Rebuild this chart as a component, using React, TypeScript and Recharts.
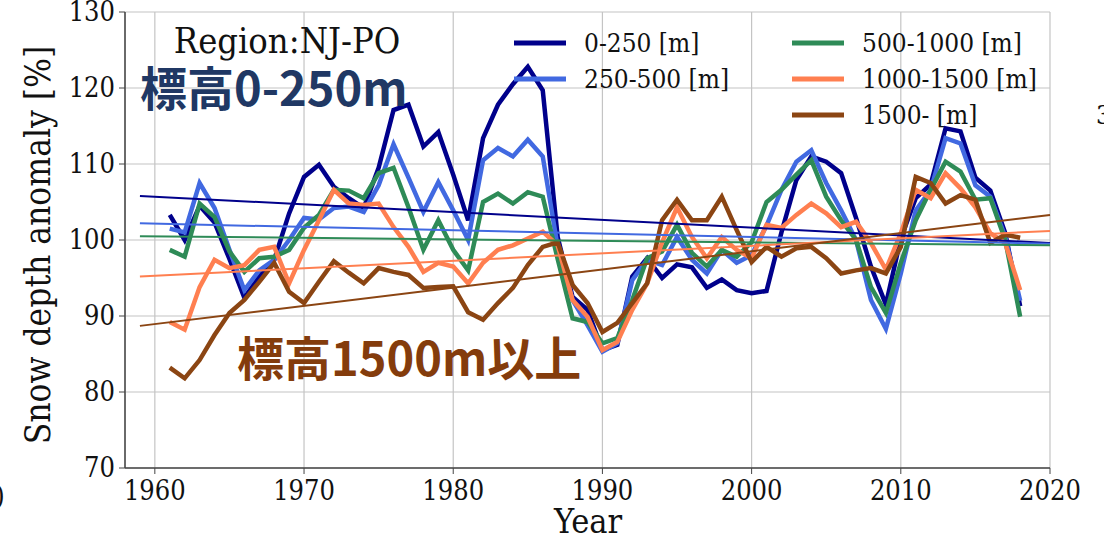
import React from 'react';
import { LineChart, Line, XAxis, YAxis, CartesianGrid } from 'recharts';

// years of the yearly series
const years = [
    1961, 1962, 1963, 1964, 1965, 1966, 1967, 1968, 1969, 1970,
    1971, 1972, 1973, 1974, 1975, 1976, 1977, 1978, 1979, 1980,
    1981, 1982, 1983, 1984, 1985, 1986, 1987, 1988, 1989, 1990,
    1991, 1992, 1993, 1994, 1995, 1996, 1997, 1998, 1999, 2000,
    2001, 2002, 2003, 2004, 2005, 2006, 2007, 2008, 2009, 2010,
    2011, 2012, 2013, 2014, 2015, 2016, 2017, 2018,
];

const elev0_250 = [
    103.3, 100, 104.5, 102.3, 97.5, 92.4, 95.2, 97.4, 103.5, 108.3,
    109.9, 107, 105.5, 104.2, 109.5, 117.1, 117.8, 112.3, 114.2, 108.6,
    102.6, 113.4, 117.8, 120.5, 122.8, 119.7, 100.4, 92.5, 90.8, 85.5,
    86.2, 95.2, 97.6, 95, 96.8, 96.4, 93.7, 94.8, 93.4, 93,
    93.3, 101, 107.9, 111, 110.3, 108.8, 102.9, 96.5, 91.5, 100.2,
    105.5, 107.3, 114.7, 114.3, 108.2, 106.5, 100.9, 91.3,
];
const elev250_500 = [
    101.5, 101, 107.5, 104.2, 98.7, 93.4, 96, 97.4, 100, 102.9,
    102.7, 104.2, 104.4, 103.7, 107.2, 112.6, 108.2, 103.7, 107.6, 103.9,
    100, 110.5, 112.1, 111, 113.2, 111, 99.1, 92.1, 88.8, 85.3,
    86.4, 94.7, 97.4, 96.7, 100.4, 97.4, 95.6, 98.7, 97, 98,
    101.9, 106.6, 110.3, 111.8, 107.5, 103.9, 100, 92.1, 88.3, 95.6,
    103.9, 106.6, 113.4, 112.7, 107.2, 105.7, 100.4, 92,
];
const elev500_1000 = [
    98.7, 97.8, 104.8, 103, 98.5, 95.8, 97.6, 97.8, 98.7, 101.6,
    103.3, 106.6, 106.5, 105.5, 108.8, 109.5, 104.3, 98.7, 102.6, 98.7,
    96, 105, 106.1, 104.8, 106.3, 105.7, 97.5, 89.7, 89.2, 86.4,
    87.1, 92.1, 97.6, 98.5, 102, 98.3, 96.5, 98.7, 97.8, 99.7,
    105, 106.6, 108.6, 110.5, 105.7, 102.6, 100, 93.8, 90.4, 97,
    102.6, 106.6, 110.3, 109, 105.3, 105.5, 100, 89.9,
];
const elev1000_1500 = [
    89.2, 88.2, 93.8, 97.4, 96.3, 96.7, 98.7, 99.1, 94.3, 98.7,
    102.6, 106.6, 104.8, 104.6, 104.8, 101.7, 99.1, 95.8, 97, 96.5,
    94.3, 97, 98.7, 99.3, 100.2, 101.1, 99.3, 92.1, 89.9, 85.5,
    86.6, 90.8, 94.3, 99.7, 104.3, 100.4, 97.6, 100.4, 98.7, 97.6,
    102, 101.6, 103.3, 104.8, 103.5, 101.7, 102.4, 99.6, 96.1, 100.9,
    106.6, 105.5, 108.8, 106.8, 104.3, 100.9, 99.6, 93.4,
];
const elev1500 = [
    83.2, 81.8, 84.2, 87.5, 90.4, 92.1, 94.5, 97, 93.2, 91.7,
    94.5, 97.2, 95.7, 94.3, 96.3, 95.8, 95.4, 93.7, 93.8, 93.9,
    90.5, 89.5, 91.7, 93.7, 96.7, 99.1, 99.7, 94.1, 91.7, 87.9,
    89.1, 91.7, 94.3, 102.6, 105.3, 102.6, 102.6, 105.7, 101.3, 97.1,
    99.1, 97.8, 98.9, 99.1, 97.6, 95.6, 96, 96.3, 95.6, 99.1,
    108.3, 107.5, 104.8, 105.9, 105.3, 99.6, 100.7, 100.3,
];

// linear trend end points (1959 and 2020)
const trendYears = [1959, 2020];
const trend0_250 = [105.8, 99.6];
const trend250_500 = [102.2, 99.5];
const trend500_1000 = [100.5, 99.3];
const trend1000_1500 = [95.2, 101.2];
const trend1500 = [88.7, 103.3];

const xTicks = [1960, 1970, 1980, 1990, 2000, 2010, 2020];
const yTicks = [70, 80, 90, 100, 110, 120, 130];

const SERIES = [
    { name: '0-250 [m]', color: '#00008b', values: elev0_250, trend: trend0_250 },
    { name: '250-500 [m]', color: '#4169e1', values: elev250_500, trend: trend250_500 },
    { name: '500-1000 [m]', color: '#2e8b57', values: elev500_1000, trend: trend500_1000 },
    { name: '1000-1500 [m]', color: '#ff7f50', values: elev1000_1500, trend: trend1000_1500 },
    { name: '1500- [m]', color: '#8b4513', values: elev1500, trend: trend1500 },
];

const SERIF = "'DejaVu Serif Condensed', 'DejaVu Serif', serif";
const JP = "'Noto Sans CJK JP', 'Noto Sans', sans-serif";

const XTick = ({ x, y, payload }: any) => (
    <text x={x} y={y + 24} textAnchor="middle" fontFamily={SERIF} fontSize={27} fill="#111">
        {payload.value}
    </text>
);

const YTick = ({ x, y, payload }: any) => (
    <text x={x - 2} y={y + 9} textAnchor="end" fontFamily={SERIF} fontSize={27} fill="#111">
        {payload.value}
    </text>
);

export default function App() {
    return (
        <div style={{ position: 'relative', width: 1104, height: 541, background: '#fff' }}>
            <style>{'body{margin:0}'}</style>
            <LineChart width={1104} height={541} margin={{ top: 12, right: 54, bottom: 0, left: 0 }}>
                <CartesianGrid stroke="#c4c4c4" strokeWidth={1.2} />
                <XAxis
                    dataKey="year" type="number" domain={[1958, 2020]} ticks={xTicks}
                    allowDuplicatedCategory={false} height={73} tick={<XTick />} tickSize={6}
                    axisLine={{ stroke: '#444', strokeWidth: 1.5 }} tickLine={{ stroke: '#444' }}
                />
                <XAxis xAxisId="top" orientation="top" type="number" domain={[1958, 2020]} height={0}
                    tick={false} tickLine={false} axisLine={{ stroke: '#444', strokeWidth: 1.5 }} />
                <YAxis
                    type="number" domain={[70, 130]} ticks={yTicks} width={125} tick={<YTick />} tickSize={6}
                    axisLine={{ stroke: '#444', strokeWidth: 1.5 }} tickLine={{ stroke: '#444' }}
                />
                <YAxis yAxisId="right" orientation="right" type="number" domain={[70, 130]} width={0}
                    tick={false} tickLine={false} axisLine={{ stroke: '#444', strokeWidth: 1.5 }} />
                {SERIES.map((s) => (
                    <Line
                        key={s.name}
                        data={years.map((year, i) => ({ year, v: s.values[i] }))}
                        dataKey="v" stroke={s.color} strokeWidth={4.5} dot={false}
                        strokeLinejoin="miter" isAnimationActive={false}
                    />
                ))}
                {SERIES.map((s) => (
                    <Line
                        key={s.name + '-trend'}
                        data={trendYears.map((year, i) => ({ year, v: s.trend[i] }))}
                        dataKey="v" stroke={s.color} strokeWidth={2} dot={false} isAnimationActive={false}
                    />
                ))}
            </LineChart>
            <svg width={1104} height={541} style={{ position: 'absolute', left: 0, top: 0, pointerEvents: 'none' }}>
                <text x={287} y={53} textAnchor="middle" fontFamily={SERIF} fontSize={36} fill="#111">Region:NJ-PO</text>
                <text x={140} y={106} fontFamily={JP} fontWeight={700} fontSize={47} fill="#203864">標高0-250m</text>
                <text x={237} y={376} fontFamily={JP} fontWeight={700} fontSize={47} fill="#843c0c">標高1500m以上</text>
                <text transform="translate(50,245) rotate(-90)" textAnchor="middle" fontFamily={SERIF} fontSize={35} fill="#111">
                    Snow depth anomaly [%]
                </text>
                <text x={588} y={533} textAnchor="middle" fontFamily={SERIF} fontSize={34} fill="#111">Year</text>
                {SERIES.map((s, i) => {
                    const col = i < 2 ? 0 : 1;
                    const row = i < 2 ? i : i - 2;
                    const lx = col === 0 ? 514 : 792;
                    const ly = 43 + row * 36;
                    return (
                        <g key={s.name}>
                            <line x1={lx} x2={lx + 52} y1={ly} y2={ly} stroke={s.color} strokeWidth={5} />
                            <text x={lx + 70} y={ly + 9} fontFamily={SERIF} fontSize={26} fill="#111">{s.name}</text>
                        </g>
                    );
                })}
                <text x={1096} y={124} fontFamily={SERIF} fontSize={26} fill="#111">3</text>
                <text x={-5} y={505} fontFamily={SERIF} fontSize={28} fill="#111">)</text>
            </svg>
        </div>
    );
}
